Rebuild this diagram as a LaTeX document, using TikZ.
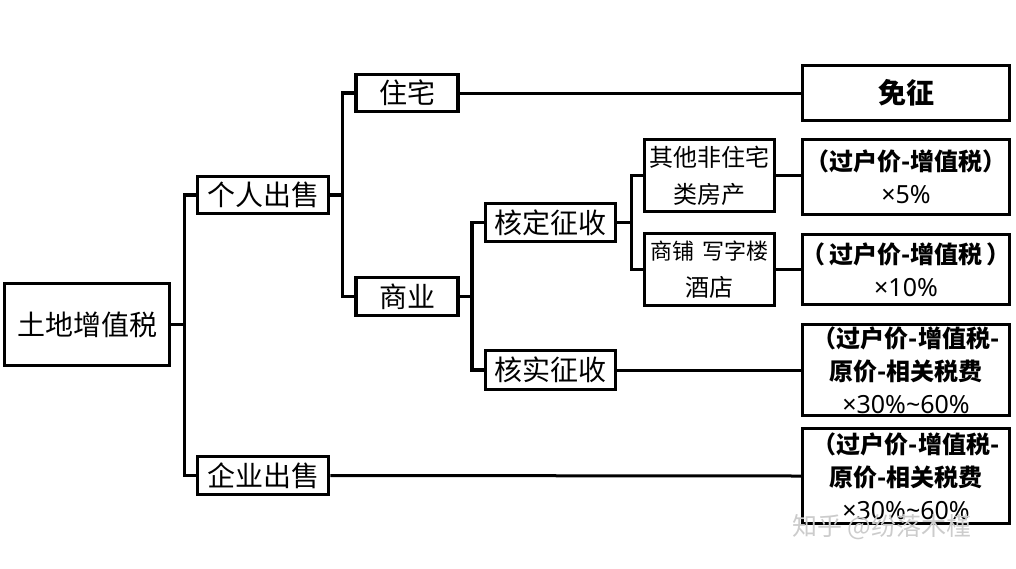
\documentclass[tikz,border=0pt]{standalone}
\usepackage{fontspec}
\newfontfamily\cjk{Noto Sans CJK SC}
\newfontfamily\lat{Noto Sans}
\usetikzlibrary{positioning}
\tikzset{box/.style = {draw, line width=3.5pt, inner sep=0pt, align=center,
                       font=\cjk\fontsize{28}{34}\selectfont}}
\tikzset{kind/.style = {box, font=\cjk\fontsize{24}{37}\selectfont}}
\tikzset{res/.style = {box, minimum width=207, font=\cjk\bfseries\fontsize{24}{33}\selectfont}}
\tikzset{wire/.style = {line width=3.5pt}}
\tikzset{link/.style = {line width=3pt}}
\newcommand{\rate}[1]{{\lat\mdseries\fontsize{25}{33}\selectfont #1}}

\begin{document}
\begin{tikzpicture}[x=1pt, y=-1pt]
        \useasboundingbox (0,0) rectangle (1016,568);
        \node[box, minimum width=165, minimum height=82] (root) at (87,324.5) {土地增值税};
        \node[box, minimum width=131, minimum height=37] (gr) at (263,195) {个人出售};
        \node[box, minimum width=131, minimum height=38] (qy) at (263,475.5) {企业出售};
        \node[box, minimum width=102, minimum height=37] (zz) at (407,93) {住宅};
        \node[box, minimum width=102, minimum height=38] (sy) at (407,296.5) {商业};
        \node[box, minimum width=130, minimum height=38] (hd) at (550.5,222.5) {核定征收};
        \node[box, minimum width=130, minimum height=39] (hs) at (550.5,370) {核实征收};
        \node[kind, minimum width=130, minimum height=72] (qt) at (709.5,175.5) {其他非住宅\\类房产};
        \node[kind, minimum width=130, minimum height=72] (sp) at (709.5,269.5)
             {{\fontsize{22}{37}\selectfont 商铺\hspace{8pt}写字楼}\\酒店};
        \node[res, font=\cjk\bfseries\fontsize{28}{34}\selectfont, minimum height=55] (mz) at (906,93) {免征};
        \node[res, minimum height=75] (r5) at (906,177) {（过户价-增值税）\\\rate{×5\%}};
        \node[res, minimum height=70] (r10) at (906,269.5)
             {\makebox[0pt]{（\hspace{4pt}过户价-增值税\hspace{4pt}）}\\\rate{×10\%}};
        \node[res, minimum height=91] (r30a) at (906,370)
             {（过户价-增值税-\\原价-相关税费\\\rate{×30\%\textasciitilde60\%}};
        \node[res, minimum height=95] (r30b) at (906,476)
             {（过户价-增值税-\\原价-相关税费\\\rate{×30\%\textasciitilde60\%}};
        \draw[wire] (root.east) -- ++(13,0) |- (gr.west);
        \draw[wire] (root.east) -- ++(13,0) |- (qy.west);
        \draw[wire] (gr.east) -- ++(12,0) |- (zz.west);
        \draw[wire] (gr.east) -- ++(12,0) |- (sy.west);
        \draw[wire] (sy.east) -- ++(12,0) |- (hd.west);
        \draw[wire] (sy.east) -- ++(12,0) |- (hs.west);
        \draw[wire] (hd.east) -- ++(14,0) |- (qt.west);
        \draw[wire] (hd.east) -- ++(14,0) |- (sp.west);
        \draw[link] (zz.east) -- (mz.west);
        \draw[link] (qt.east) -- (qt.east -| r5.west);
        \draw[link] (sp.east) -- (sp.east -| r10.west);
        \draw[link] (hs.east) -- (r30a.west);
        \draw[link] (qy.east) -- (r30b.west);
        \node[font=\cjk\fontsize{25}{30}\selectfont, text=gray!40] (wm) at (882,527) {知乎 @纷落木槿};
    \end{tikzpicture}
\end{document}
